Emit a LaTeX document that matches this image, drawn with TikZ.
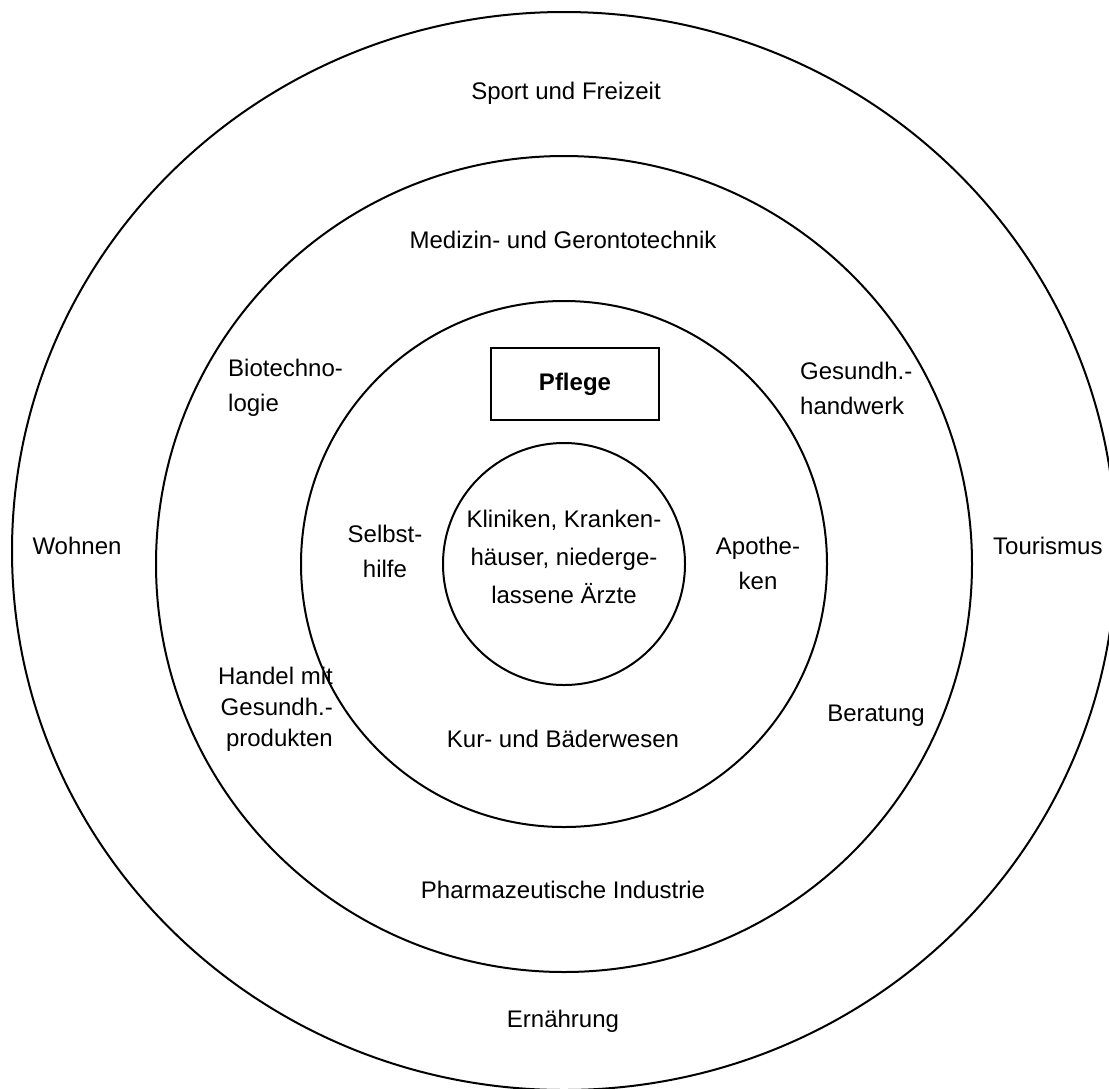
\documentclass[tikz,border=0pt]{standalone}
\usepackage{fontspec}
\setmainfont{Liberation Sans}
\newcommand{\ringx}{564}
\newcommand{\ringy}{564}
\newcommand{\ringone}{121pt}
\newcommand{\ringtwo}{263pt}
\newcommand{\ringthree}{408pt}
\newcommand{\outery}{551}
\newcommand{\outerrx}{552pt}
\newcommand{\outerry}{539pt}
\newcommand{\textsz}{\fontsize{24}{35}\selectfont}

\begin{document}
\begin{tikzpicture}[x=1pt,y=-1pt]
\tikzstyle{ring}=[line width=2pt]
\tikzstyle{field}=[font=\textsz,inner sep=0pt,align=center]
\tikzstyle{carebox}=[draw,line width=2pt,minimum width=168pt,minimum height=72pt,font=\textsz\bfseries]

\useasboundingbox (0,0) rectangle (1109,1088);

%% rings
\draw[ring] (\ringx,\outery) ellipse [x radius=\outerrx, y radius=\outerry];
\draw[ring] (\ringx,\ringy) circle [radius=\ringthree];
\draw[ring] (\ringx,\ringy) circle [radius=\ringtwo];
\draw[ring] (\ringx,\ringy) circle [radius=\ringone];

%% outer ring
\node(sport) [field] at (566,93) {Sport und Freizeit};
\node(wohnen) [field] at (77,546) {Wohnen};
\node(tourismus) [field,anchor=west] at (993,546) {Tourismus};
\node(ernaehrung) [field] at (563,1021) {Ernährung};

%% middle ring
\node(medizin) [field] at (563,240) {Medizin- und Gerontotechnik};
\node(biotech) [field,anchor=west,align=left] at (228,388) {Biotechno-\\logie};
\node(handwerk) [field,anchor=west,align=left] at (800,388) {Gesundh.-\\handwerk};
\node(handel) [field,anchor=east,align=right,font=\fontsize{24}{31}\selectfont] at (333,709) {Handel mit\hspace{0.45em}\\Gesundh.-\\produkten};
\node(beratung) [field] at (876,716) {Beratung};
\node(pharma) [field] at (563,890) {Pharmazeutische Industrie};

%% inner ring
\node(pflege) [carebox] at (575,384) {Pflege};
\node(selbsthilfe) [field] at (385,551) {Selbst-\\hilfe};
\node(apotheken) [field] at (758,563) {Apothe-\\ken};
\node(kur) [field] at (563,739) {Kur- und Bäderwesen};

%% core
\node(kliniken) [field,font=\fontsize{24}{38}\selectfont] at (564,557) {Kliniken, Kranken-\\häuser, niederge-\\lassene Ärzte};

\end{tikzpicture}
\end{document}
